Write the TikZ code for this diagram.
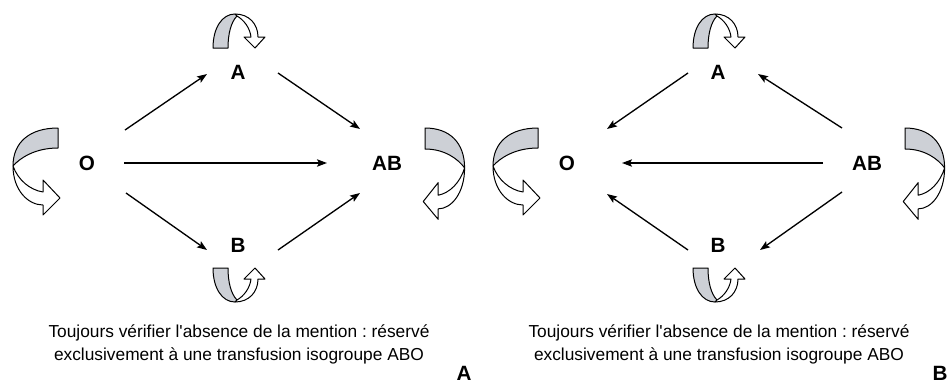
\documentclass[tikz,border=0pt]{standalone}
\usepackage{fontspec}
\setmainfont{Liberation Sans}
\usetikzlibrary{arrows.meta,calc}
\definecolor{loopgray}{RGB}{205,208,214}
\frenchspacing
\tikzset{
  lbl/.style={font=\fontsize{15.5}{18}\selectfont\bfseries, inner sep=0pt},
  arr/.style={line width=1pt, -{Stealth[length=7.5pt,width=5.5pt,inset=1.5pt]}},
  captext/.style={font=\fontsize{13}{17}\selectfont, inner sep=0pt, anchor=base},
  band/.style={draw=black, line width=0.75pt, line join=round},
  pics/toploop/.style={code={
    \path[band, fill=loopgray] (0,0) .. controls (0,-20) and (9,-34) .. (22,-34) -- (24,-32)
       .. controls (18,-26) and (15,-14) .. (15,0) -- cycle;
    \path[band, fill=white] (22,-34) .. controls (36,-34) and (45,-24) .. (45,-11) -- (52,-11) -- (42,0)
       -- (31,-11) -- (38,-11) .. controls (37,-20) and (31,-28) .. (24,-32) -- cycle;
  }},
  pics/sideloop/.style={code={
    \path[band, fill=loopgray] (0,0) .. controls (-28,0) and (-45,14) .. (-45,38)
       .. controls (-38,30) and (-23,20) .. (0,20) -- cycle;
    \path[band, fill=white] (-45,38) .. controls (-45,62) and (-30,77) .. (-15,77) -- (-15,87) -- (2,70)
       -- (-15,52) -- (-15,64) .. controls (-28,62) and (-40,52) .. (-45,38) -- cycle;
  }},
}
\begin{document}
\begin{tikzpicture}[x=0.75pt,y=-0.75pt]
\path[use as bounding box] (0,0) rectangle (952,386);

% ---------- Panel A ----------
\node[lbl] (O)  at (87,163)  {O};
\node[lbl] (A)  at (238,72)  {A};
\node[lbl] (B)  at (238,245) {B};
\node[lbl] (AB) at (387,163) {AB};

\draw[arr] ($(O)+(38,-33)$) -- ($(A)+(-31,2)$);
\draw[arr] ($(A)+(40,1)$) -- ($(AB)+(-27,-34)$);
\draw[arr] ($(O)+(37,0)$) -- ($(AB)+(-60,0)$);
\draw[arr] ($(O)+(39,30)$) -- ($(B)+(-31,5)$);
\draw[arr] ($(B)+(40,5)$) -- ($(AB)+(-27,30)$);

\pic at (213,48) {toploop};
\pic[yscale=-1] at (213,268) {toploop};
\pic at (58,128) {sideloop};
\pic[xscale=-0.88,yscale=1.05] at (425,128) {sideloop};

\node[captext] (capA1) at (239,337) {Toujours vérifier l\textquotesingle absence de la mention : réservé};
\node[captext] (capA2) at (239,360) {exclusivement à une transfusion isogroupe ABO};
\node[lbl] (labA) at (464,373) {A};

% ---------- Panel B ----------
\node[lbl] (O2)  at (567,163)  {O};
\node[lbl] (A2)  at (718,72)   {A};
\node[lbl] (B2)  at (718,245)  {B};
\node[lbl] (AB2) at (867,163)  {AB};

\draw[arr] ($(A2)+(-30,1)$) -- ($(O2)+(40,-34)$);
\draw[arr] ($(AB2)+(-25,-35)$) -- ($(A2)+(40,2)$);
\draw[arr] ($(AB2)+(-44,0)$) -- ($(O2)+(55,0)$);
\draw[arr] ($(B2)+(-30,5)$) -- ($(O2)+(40,31)$);
\draw[arr] ($(AB2)+(-25,29)$) -- ($(B2)+(42,5)$);

\pic at (693,48) {toploop};
\pic[yscale=-1] at (693,268) {toploop};
\pic at (538,128) {sideloop};
\pic[xscale=-0.88,yscale=1.05] at (905,128) {sideloop};

\node[captext] (capB1) at (719,337) {Toujours vérifier l\textquotesingle absence de la mention : réservé};
\node[captext] (capB2) at (719,360) {exclusivement à une transfusion isogroupe ABO};
\node[lbl] (labB) at (940,373) {B};
\end{tikzpicture}
\end{document}
